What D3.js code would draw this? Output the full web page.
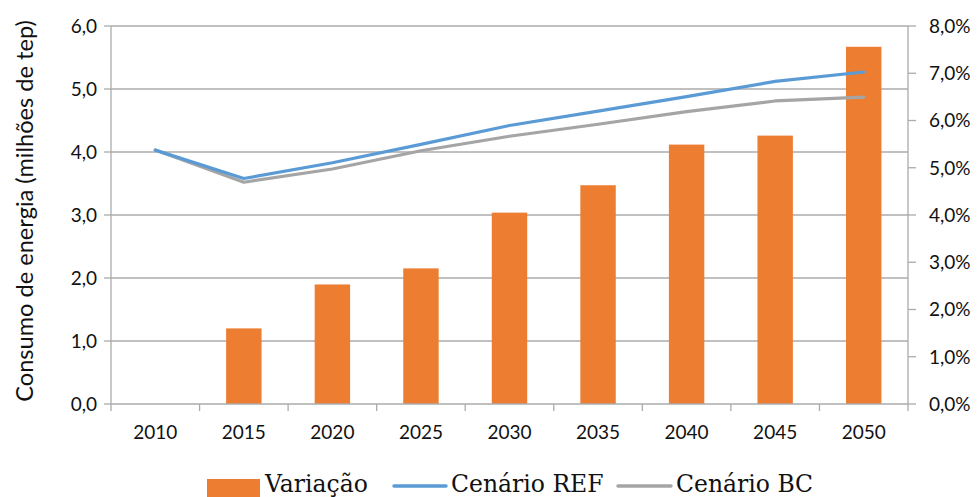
<!DOCTYPE html>
<html>
<head>
<meta charset="utf-8">
<script src="https://cdn.jsdelivr.net/npm/d3@7"></script>
<style>
  html, body { margin: 0; padding: 0; background: #fff; }
  svg { display: block; }
  .tick-label { font-family: Lato, sans-serif; font-size: 19px; fill: #111; }
  .axis-title { font-family: Lato, sans-serif; font-size: 23.6px; fill: #111; }
  .legend-label { font-family: "DejaVu Serif", serif; font-size: 23.5px; fill: #111; }
</style>
</head>
<body>
<div id="chart"></div>
<script>
// --- data ------------------------------------------------------------------
const years = ['2010', '2015', '2020', '2025', '2030', '2035', '2040', '2045', '2050'];
// variation, % (right axis)
const variacao = [null, 1.60, 2.53, 2.87, 4.05, 4.63, 5.49, 5.68, 7.56];
// energy consumption, millions tep (left axis)
const cenarioREF = [4.03, 3.58, 3.83, 4.12, 4.42, 4.65, 4.88, 5.12, 5.27];
const cenarioBC  = [4.03, 3.52, 3.73, 4.02, 4.25, 4.44, 4.64, 4.81, 4.87];
const leftTicks  = [0, 1, 2, 3, 4, 5, 6];
const rightTicks = [0, 1, 2, 3, 4, 5, 6, 7, 8];

const COLORS = { bar: '#ED7D31', ref: '#5B9BD5', bc: '#A5A5A5', grid: '#ababab', ink: '#111' };

// --- layout ----------------------------------------------------------------
const W = 979, H = 497;
const M = { left: 111, right: 908, top: 26, bottom: 404 };

const svg = d3.select('#chart').append('svg')
  .attr('width', W).attr('height', H)
  .attr('viewBox', `0 0 ${W} ${H}`);

const x = d3.scaleBand().domain(years).range([M.left, M.right]).paddingInner(0).paddingOuter(0);
const yL = d3.scaleLinear().domain([0, 6]).range([M.bottom, M.top]);
const yR = d3.scaleLinear().domain([0, 8]).range([M.bottom, M.top]);
const fmt = d3.format('.1f');
const comma = v => fmt(v).replace('.', ',');

// gridlines (left axis)
svg.append('g')
  .selectAll('line')
  .data(leftTicks.filter(d => d > 0))
  .join('line')
    .attr('x1', M.left).attr('x2', M.right)
    .attr('y1', d => yL(d)).attr('y2', d => yL(d))
    .attr('stroke', COLORS.grid).attr('stroke-width', 1.3);

// --- bars ------------------------------------------------------------------
const barW = x.bandwidth() * 0.40;
svg.append('g')
  .selectAll('rect')
  .data(years.map((yr, i) => ({ yr, v: variacao[i] })).filter(d => d.v != null))
  .join('rect')
    .attr('x', d => x(d.yr) + (x.bandwidth() - barW) / 2)
    .attr('y', d => yR(d.v))
    .attr('width', barW)
    .attr('height', d => yR(0) - yR(d.v))
    .attr('fill', COLORS.bar);

// --- axes ------------------------------------------------------------------
const axisG = svg.append('g').attr('stroke', COLORS.grid).attr('stroke-width', 1.3);
// left
axisG.append('line').attr('x1', M.left).attr('x2', M.left).attr('y1', M.top).attr('y2', M.bottom);
axisG.selectAll('line.lt').data(leftTicks).join('line').attr('class', 'lt')
  .attr('x1', M.left - 7).attr('x2', M.left).attr('y1', d => yL(d)).attr('y2', d => yL(d));
// right
axisG.append('line').attr('x1', M.right).attr('x2', M.right).attr('y1', M.top).attr('y2', M.bottom);
axisG.selectAll('line.rt').data(rightTicks).join('line').attr('class', 'rt')
  .attr('x1', M.right).attr('x2', M.right + 8).attr('y1', d => yR(d)).attr('y2', d => yR(d));
// bottom
axisG.append('line').attr('x1', M.left).attr('x2', M.right).attr('y1', M.bottom).attr('y2', M.bottom);
const xEdges = years.map(d => x(d)).concat([M.right]);
axisG.selectAll('line.bt').data(xEdges).join('line').attr('class', 'bt')
  .attr('x1', d => d).attr('x2', d => d).attr('y1', M.bottom).attr('y2', M.bottom + 7);

// tick labels
svg.append('g').selectAll('text').data(leftTicks).join('text')
  .attr('class', 'tick-label')
  .attr('x', M.left - 14).attr('y', d => yL(d)).attr('dy', '0.36em')
  .attr('text-anchor', 'end').text(comma);

svg.append('g').selectAll('text').data(rightTicks).join('text')
  .attr('class', 'tick-label')
  .attr('x', M.right + 21).attr('y', d => yR(d)).attr('dy', '0.36em')
  .attr('text-anchor', 'start').text(d => comma(d) + '%');

svg.append('g').selectAll('text').data(years).join('text')
  .attr('class', 'tick-label')
  .attr('x', d => x(d) + x.bandwidth() / 2).attr('y', 439)
  .attr('text-anchor', 'middle').text(d => d);

// axis title
svg.append('text')
  .attr('class', 'axis-title')
  .attr('transform', `translate(33, 211) rotate(-90)`)
  .attr('text-anchor', 'middle')
  .text('Consumo de energia (milhões de tep)');

// --- lines -----------------------------------------------------------------
const cx = d => x(d) + x.bandwidth() / 2;
const line = d3.line().x(d => cx(d.yr)).y(d => yL(d.v));
[[cenarioBC, COLORS.bc], [cenarioREF, COLORS.ref]].forEach(([vals, col]) => {
  svg.append('path')
    .datum(years.map((yr, i) => ({ yr, v: vals[i] })))
    .attr('d', line)
    .attr('fill', 'none')
    .attr('stroke', col)
    .attr('stroke-width', 3.2)
    .attr('stroke-linecap', 'round')
    .attr('stroke-linejoin', 'round');
});

// --- legend ----------------------------------------------------------------
const leg = svg.append('g');
const legY = 486;
leg.append('rect').attr('x', 207).attr('y', legY - 7).attr('width', 53).attr('height', 18).attr('fill', COLORS.bar);
leg.append('text').attr('class', 'legend-label').attr('x', 265).attr('y', 491.5).text('Variação');
leg.append('line').attr('x1', 394).attr('x2', 446).attr('y1', legY).attr('y2', legY)
  .attr('stroke', COLORS.ref).attr('stroke-width', 3.5).attr('stroke-linecap', 'round');
leg.append('text').attr('class', 'legend-label').attr('x', 451).attr('y', 491.5).text('Cenário REF');
leg.append('line').attr('x1', 618).attr('x2', 671).attr('y1', legY).attr('y2', legY)
  .attr('stroke', COLORS.bc).attr('stroke-width', 3.5).attr('stroke-linecap', 'round');
leg.append('text').attr('class', 'legend-label').attr('x', 676).attr('y', 491.5).text('Cenário BC');
</script>
</body>
</html>
